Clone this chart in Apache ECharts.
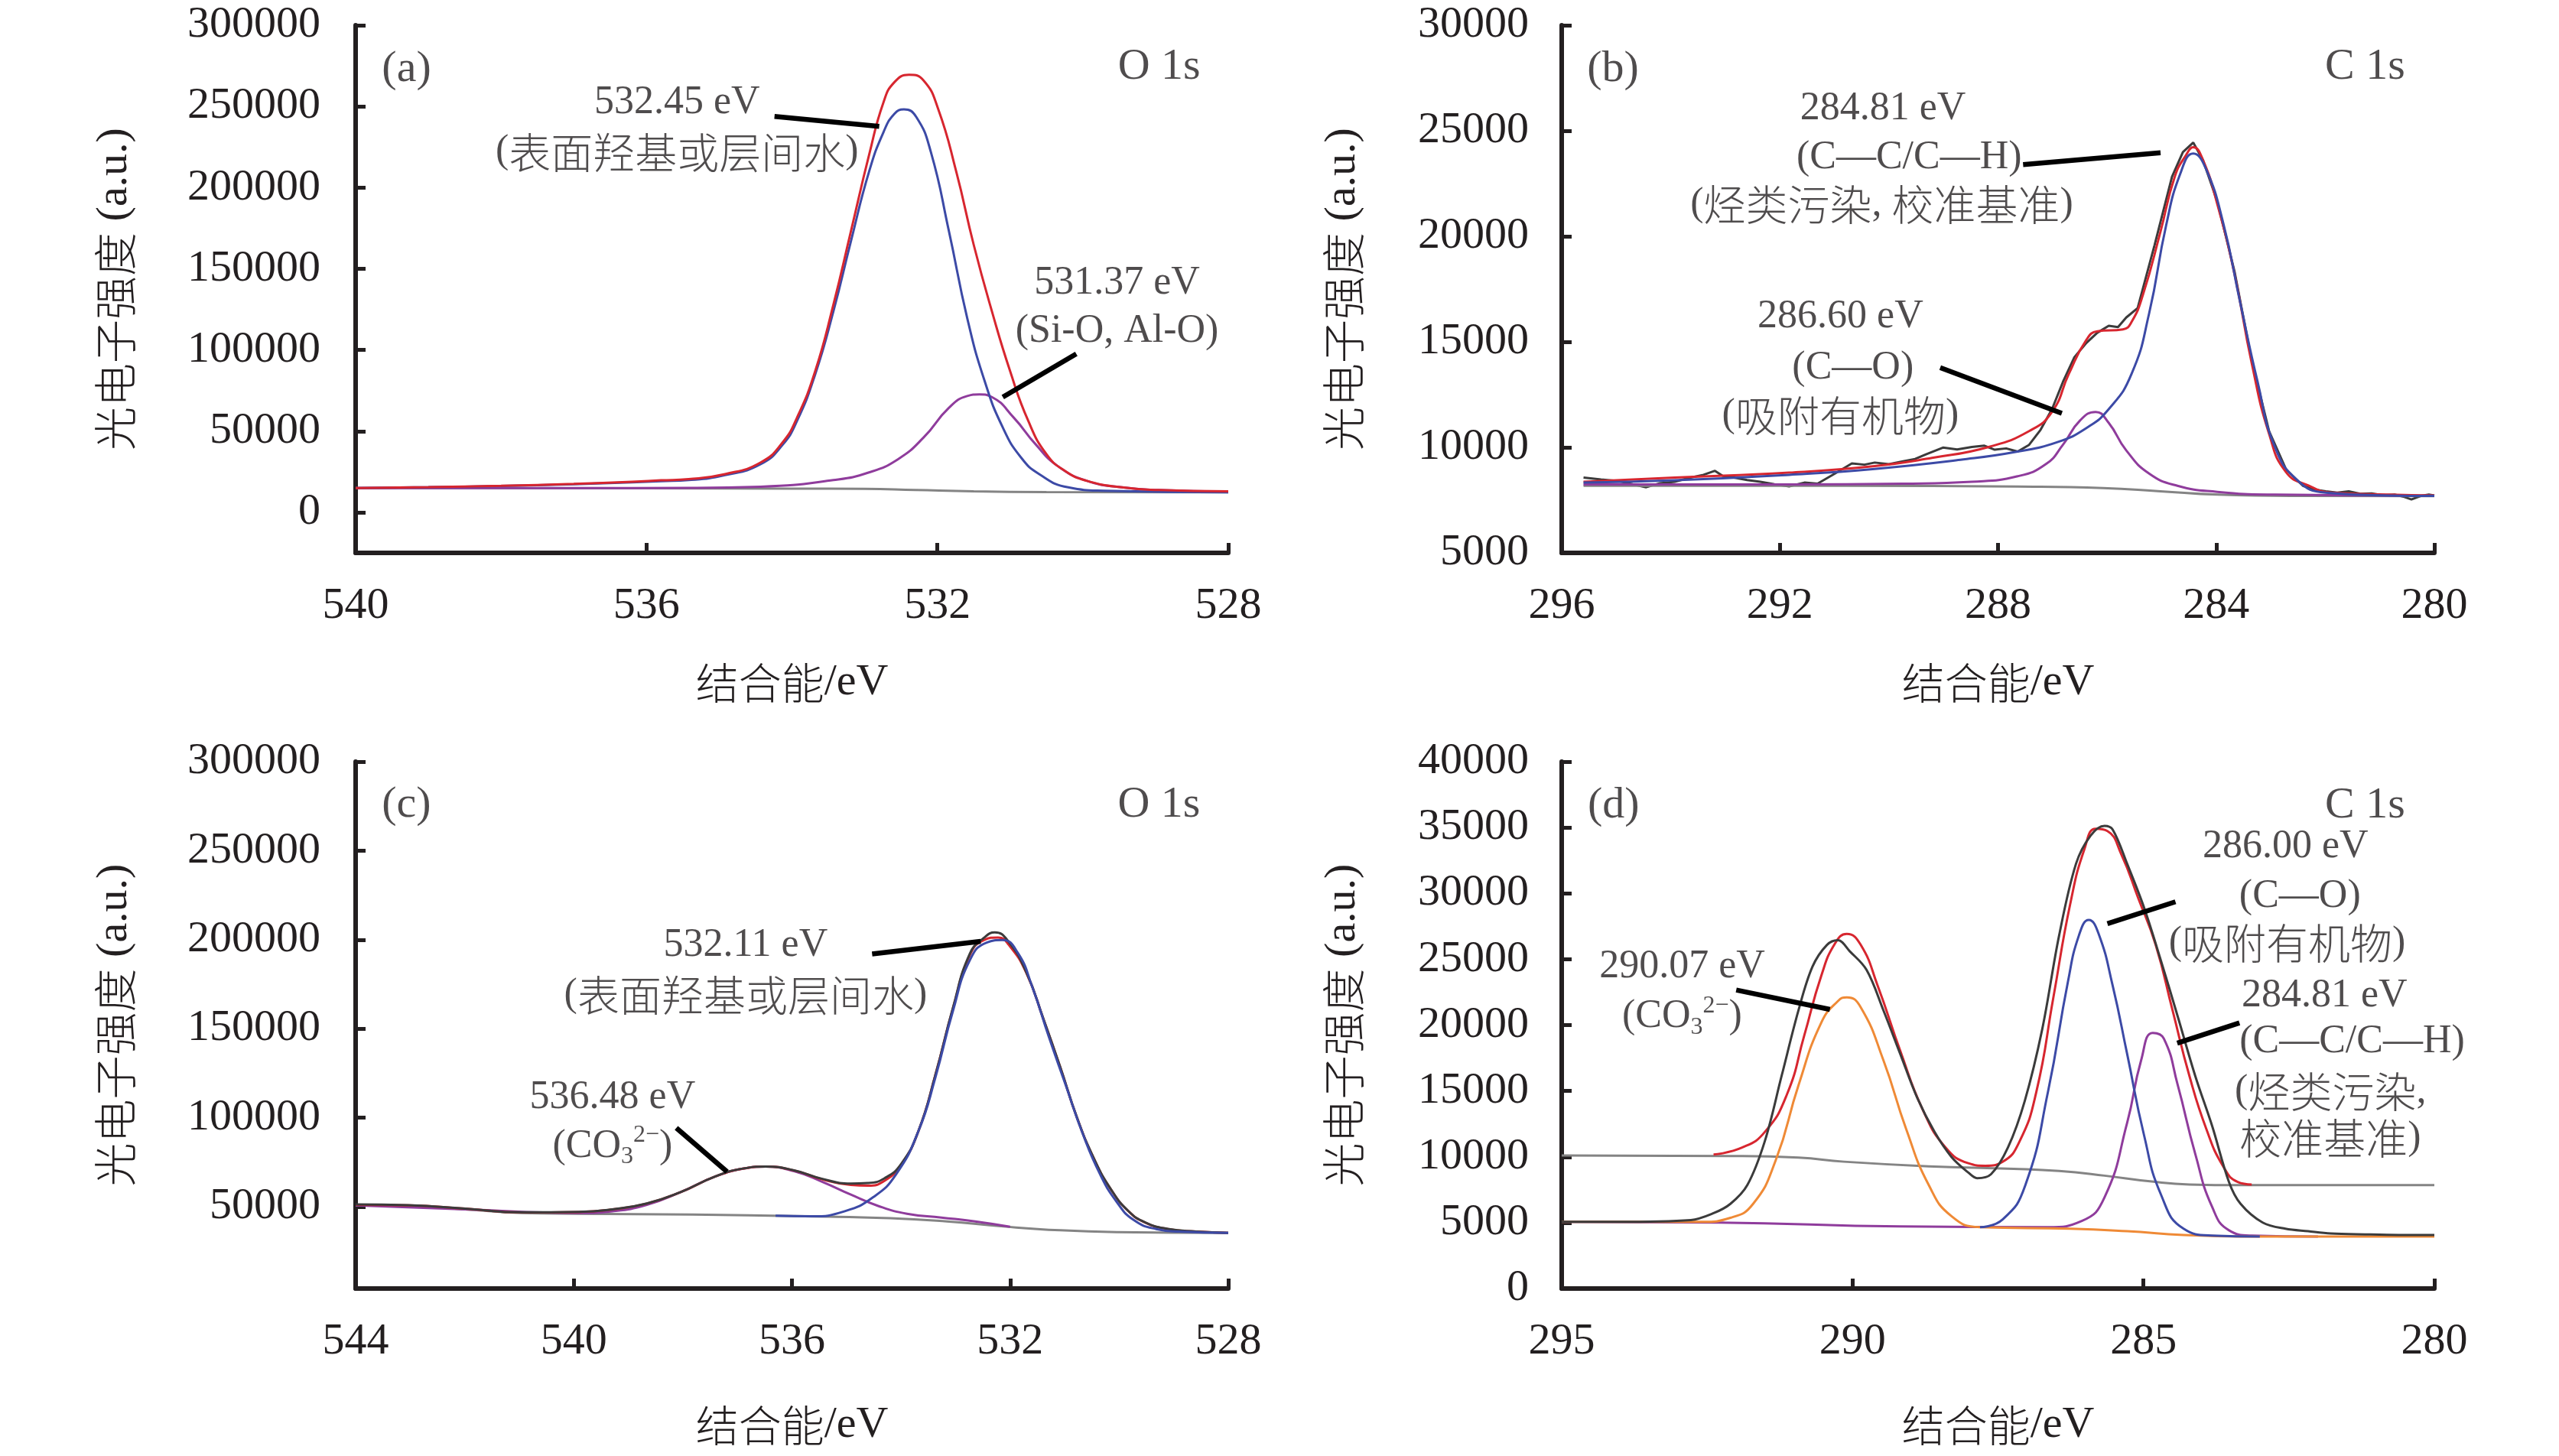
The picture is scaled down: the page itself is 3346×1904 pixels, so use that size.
<!DOCTYPE html>
<html><head><meta charset="utf-8">
<script src="https://cdn.jsdelivr.net/npm/echarts@6/dist/echarts.min.js"></script>
<style>html,body{margin:0;padding:0;background:#fff}#c{width:3346px;height:1904px}</style>
</head><body><div id="c"></div>
<script>
// ---------------- DATA (binding energy eV, intensity a.u.) ----------------
// Panel (a) O 1s
const a_envelope = [[540,14900],[539,15500],[538,16300],[537,17500],[536.2,18800],[535.8,19700],[535.42,20460],[534.92,23530],[534.43,30690],[534.13,42970],[533.93,58310],[533.68,86960],[533.43,127880],[533.19,172890],[532.94,219950],[532.74,252680],[532.59,264960],[532.39,269460],[532.19,265980],[531.99,248590],[531.74,209720],[531.50,164700],[531.25,123780],[531.00,86960],[530.75,56270],[530.50,35810],[530.25,25580],[529.95,19440],[529.46,15350],[528.96,13710],[528.00,12890]];
const a_peak53245 = [[540,14900],[539,15450],[538,16200],[537,17300],[536.2,18500],[535.8,19200],[535.42,19850],[534.92,22900],[534.43,29670],[534.13,41500],[533.93,56270],[533.68,85000],[533.43,123780],[533.19,166750],[532.94,209720],[532.74,234270],[532.59,245520],[532.46,248180],[532.29,243470],[532.09,221990],[531.84,172890],[531.59,119690],[531.35,80820],[531.10,52170],[530.85,33760],[530.60,23530],[530.20,15350],[529.71,13300],[528.00,12300]];
const a_peak53137 = [[540,14950],[537,14900],[535.42,15000],[534.43,15750],[533.43,19850],[532.94,24550],[532.54,32740],[532.19,46040],[531.84,64450],[531.59,71610],[531.42,72630],[531.25,70990],[530.95,58310],[530.65,41940],[530.35,28640],[529.95,19440],[529.46,15350],[528.96,13710],[528.00,12690]];
const a_background = [[540,14900],[536,14800],[534,14600],[533,14400],[532.3,13700],[531.5,12900],[530.5,12500],[528,12300]];

// Panel (b) C 1s
const b_raw = [[295.60,8570],[295.28,8480],[294.97,8410],[294.70,8250],[294.45,8110],[294.20,8300],[293.93,8370],[293.65,8560],[293.40,8700],[293.19,8890],[293.05,8650],[292.88,8590],[292.60,8450],[292.36,8370],[292.10,8250],[291.83,8150],[291.55,8330],[291.31,8280],[290.99,8760],[290.68,9240],[290.45,9180],[290.26,9280],[290.00,9200],[289.74,9340],[289.52,9450],[289.32,9670],[289.01,9990],[288.75,9900],[288.48,10020],[288.25,10080],[288.06,9890],[287.85,9950],[287.64,9800],[287.43,10120],[287.22,10830],[287.01,11810],[286.81,13100],[286.60,14270],[286.39,14920],[286.18,15430],[285.97,15760],[285.80,15700],[285.65,16150],[285.44,16600],[285.13,19580],[284.81,22820],[284.61,23990],[284.42,24440],[284.24,23600],[283.98,21650],[283.66,18290],[283.35,14140],[283.03,10770],[282.72,8960],[282.41,8180],[282.20,8000],[281.99,7920],[281.78,7850],[281.57,7920],[281.36,7800],[281.15,7820],[280.94,7730],[280.73,7760],[280.55,7650],[280.42,7530],[280.25,7700],[280.10,7760],[280.0,7720]];
const b_envelope = [[295.60,8370],[293.93,8570],[291.83,8800],[290.26,9110],[289.21,9500],[288.17,10020],[287.43,10770],[287.01,11680],[286.70,13490],[286.39,15050],[286.18,15500],[285.71,15590],[285.55,15950],[285.34,17250],[285.02,20230],[284.76,22820],[284.55,23860],[284.42,24220],[284.24,23600],[283.98,21530],[283.66,18160],[283.35,14010],[283.03,10640],[282.72,8830],[282.30,8180],[281.88,7850],[280.84,7760],[280.00,7720]];
const b_peak28481 = [[295.60,8330],[293.93,8440],[291.83,8700],[290.26,8980],[288.69,9410],[287.64,9800],[286.91,10250],[286.39,10900],[285.97,11810],[285.55,13490],[285.23,16340],[284.92,20490],[284.66,22950],[284.42,23920],[284.19,23210],[283.87,20620],[283.56,16860],[283.24,13100],[282.93,10060],[282.51,8440],[281.99,7850],[280.84,7720],[280.00,7700]];
const b_peak28660 = [[295.60,8240],[291.83,8240],[289.74,8280],[288.48,8370],[287.64,8630],[287.12,9210],[286.81,10120],[286.49,11290],[286.21,11680],[285.97,11160],[285.65,9860],[285.23,8760],[284.71,8180],[283.98,7890],[282.93,7760],[280.00,7710]];
const b_background = [[295.60,8180],[290.79,8180],[287.64,8140],[286.07,8070],[285.02,7920],[283.98,7760],[282.41,7700],[280.00,7690]];

// Panel (c) O 1s
const c_raw = [[544.0,51300],[543.03,50800],[541.99,48900],[540.95,46800],[539.91,47050],[539.29,48500],[538.66,51800],[538.04,58200],[537.42,66800],[536.90,71400],[536.48,72500],[535.96,70400],[535.44,65600],[534.92,63000],[534.61,63300],[534.30,66000],[533.99,74300],[533.68,92600],[533.37,124000],[533.05,161500],[532.74,192000],[532.48,201000],[532.28,204080],[532.02,198500],[531.70,181500],[531.39,155600],[531.08,128400],[530.77,99800],[530.46,76900],[530.15,59700],[529.83,47500],[529.52,41100],[529.11,37500],[528.59,36000],[528.0,35300]];
const c_envelope = [[544.0,51010],[543.03,50730],[541.99,48870],[540.95,46720],[539.91,47010],[539.29,48440],[538.66,51730],[538.04,58170],[537.42,66750],[536.90,71330],[536.48,72470],[535.96,70330],[535.44,65320],[534.92,62170],[534.61,61740],[534.30,64600],[533.99,73900],[533.68,92500],[533.37,123970],[533.05,161160],[532.74,191200],[532.48,199790],[532.22,201220],[532.02,196930],[531.70,181190],[531.39,155440],[531.08,128260],[530.77,99650],[530.46,76760],[530.15,59600],[529.83,47440],[529.52,41000],[529.11,37420],[528.59,35990],[528.0,35280]];
const c_peak53211 = [[536.3,44900],[535.65,44580],[535.03,47440],[534.51,55300],[534.09,68180],[533.68,92500],[533.37,122540],[533.05,159730],[532.74,188340],[532.43,198360],[532.14,199790],[531.86,192630],[531.60,174040],[531.29,145430],[530.98,118250],[530.67,91070],[530.35,68180],[530.04,52440],[529.73,42430],[529.32,37420],[528.90,35990],[528.0,35280]];
const c_peak53648 = [[544.0,50730],[541.99,48440],[539.91,46440],[539.29,47440],[538.66,51010],[538.04,58170],[537.42,66750],[536.90,71330],[536.48,72470],[535.96,69900],[535.44,63890],[534.92,56740],[534.41,50300],[533.89,46010],[533.26,43860],[532.64,41720],[532.0,38700]];
const c_background = [[544.0,50730],[543.03,50300],[541.99,48440],[540.95,46440],[539.91,46010],[537.83,45580],[535.76,44580],[534.20,43570],[533.16,41720],[532.12,38850],[531.08,36710],[530.04,35710],[528.0,35280]];

// Panel (d) C 1s
const d_raw = [[295.0,5060],[294.05,5060],[292.78,5200],[292.39,5720],[292.10,6430],[291.81,7850],[291.51,11170],[291.22,16140],[290.93,21120],[290.69,24430],[290.44,26090],[290.25,26440],[290.05,25610],[289.76,24190],[289.47,21120],[289.18,17800],[288.89,14490],[288.59,11880],[288.30,9990],[288.01,8800],[287.86,8380],[287.62,8680],[287.33,10700],[287.04,14250],[286.74,19690],[286.45,26800],[286.16,32240],[285.91,34380],[285.67,35130],[285.53,34850],[285.28,32240],[284.99,28930],[284.70,24900],[284.41,20640],[284.11,16140],[283.82,12350],[283.53,8090],[283.33,6430],[282.95,5010],[282.56,4540],[282.17,4350],[281.78,4180],[281.19,4110],[280.61,4070],[280.0,4070]];
const d_envelope = [[292.39,10170],[291.90,10700],[291.51,11880],[291.13,14720],[290.83,19220],[290.54,23720],[290.30,26210],[290.10,26920],[289.86,26090],[289.57,23010],[289.18,18040],[288.79,13540],[288.40,10700],[288.01,9510],[287.72,9320],[287.42,9630],[287.13,11170],[286.84,14960],[286.55,22060],[286.26,29170],[286.01,33430],[285.82,34900],[285.62,34730],[285.38,32960],[285.09,29640],[284.79,26090],[284.50,21120],[284.21,16140],[283.92,12120],[283.63,9280],[283.38,8090],[283.14,7900]];
const d_peak29007 = [[295.0,5060],[292.59,5060],[292.10,5370],[291.71,6430],[291.32,9750],[290.93,15430],[290.54,20170],[290.25,21830],[290.10,22110],[289.86,21350],[289.47,17330],[289.08,12120],[288.69,7850],[288.30,5490],[287.81,4660],[286.26,4540],[285.28,4350],[284.31,4070],[283.33,3950],[280.0,3950]];
const d_peak28600 = [[287.81,4660],[287.42,5250],[287.03,7850],[286.64,14960],[286.30,23250],[286.11,26800],[285.94,27980],[285.77,26920],[285.53,23010],[285.28,17800],[284.99,11640],[284.70,7140],[284.31,4540],[283.82,4020],[283.0,3950]];
const d_peak28481 = [[295.0,5060],[292.3,5010],[289.18,4710],[286.64,4660],[286.06,5130],[285.67,6910],[285.28,12590],[285.04,17330],[284.84,19410],[284.65,18980],[284.41,15430],[284.11,10220],[283.82,6200],[283.53,4420],[283.14,4020],[282.0,3950]];
const d_background = [[295.0,10100],[292.10,10060],[290.93,9940],[290.15,9630],[288.69,9280],[287.23,9090],[286.45,8920],[285.67,8570],[284.89,8140],[284.21,7900],[283.33,7850],[280.0,7850]];

// Axis tick labels
const ticks_a_y = [0,50000,100000,150000,200000,250000,300000];
const ticks_c_y = [50000,100000,150000,200000,250000,300000];

// Annotations: [E, I, text, align, kind]
const a_notes = [[539.30,272850,'(a)','center','tag'],[528.95,274270,'O 1s','center','tag'],
  [535.58,252120,'532.45 eV','center','note'],[535.58,221960,'(表面羟基或层间水)','center','note'],
  [529.53,141100,'531.37 eV','center','note'],[529.53,111450,'(Si-O, Al-O)','center','note']];
const a_leaders = [[534.24,243870,532.80,237750],[530.09,97550,531.10,70970]];
const b_notes = [[295.06,27910,'(b)','center','tag'],[281.27,28020,'C 1s','center','tag'],
  [290.11,26030,'284.81 eV','center','note'],[289.63,23730,'(C—C/C—H)','center','note'],[290.13,21520,'(烃类污染, 校准基准)','center','note'],
  [290.89,16190,'286.60 eV','center','note'],[290.66,13750,'(C—O)','center','note'],[290.89,11520,'(吸附有机物)','center','note']];
const b_leaders = [[287.54,23400,285.02,23960],[289.06,13780,286.83,11610]];
const c_notes = [[543.07,275520,'(c)','center','tag'],[529.27,275520,'O 1s','center','tag'],
  [536.85,196900,'532.11 eV','center','note'],[536.85,169030,'(表面羟基或层间水)','center','note'],
  [539.29,111090,'536.48 eV','center','note'],[539.29,83900,'(CO{sb|3}{sp|2−})','center','note']];
const c_leaders = [[534.53,191950,532.54,199060],[538.12,94200,537.19,69600]];
const d_notes = [[294.11,36620,'(d)','center','tag'],[281.19,36620,'C 1s','center','tag'],
  [292.93,24450,'290.07 eV','center','note'],[292.93,20630,'(CO{sb|3}{sp|2−})','center','note'],
  [282.56,33550,'286.00 eV','center','note'],[282.31,29760,'(C—O)','center','note'],[282.53,26210,'(吸附有机物)','center','note'],
  [281.89,22190,'284.81 eV','center','note'],[283.35,18750,'(C—C/C—H)','left','note'],[283.43,14960,'(烃类污染,','left','note'],[283.35,11410,'校准基准)','left','note']];
const d_leaders = [[292.00,22660,290.39,21190],[284.45,29360,285.62,27700],[283.35,20170,284.42,18630]];

// ---------------- STYLE ----------------
const INK = '#231f20';
const LATIN = "'Liberation Serif', 'Times New Roman', serif";
const CJK = "'Noto Sans CJK SC'";
const COL = {red:'#d7262f', blue:'#3c4aa6', purple:'#8f3c9c', gray:'#848484', raw:'#3b3b3b', orange:'#ef8a36'};
const RICH = {
  cj:{fontFamily:CJK, fontSize:55, fontWeight:300, color:INK},
  sb:{fontFamily:LATIN, fontSize:32, color:INK, verticalAlign:'bottom', lineHeight:34},
  sp:{fontFamily:LATIN, fontSize:32, color:INK, verticalAlign:'top', lineHeight:34}
};
function wrapCJK(s){ return s.replace(/([\u3400-\u9fff\uff00-\uffef]+)/g, '{cj|$1}'); }

const grids = [
  {left:465, top:33, width:1141, height:690},
  {left:2042, top:33, width:1141, height:690},
  {left:465, top:996, width:1141, height:689},
  {left:2042, top:996, width:1141, height:689}
];

function xAxis(g, min, max, interval, gap){
  return {gridIndex:g, type:'value', min:min, max:max, interval:interval, inverse:true,
    name:'{cj|结合能}/eV', nameLocation:'middle', nameGap:gap,
    nameTextStyle:{fontSize:58, fontFamily:LATIN, color:INK, rich:{cj:{fontFamily:CJK, fontSize:56, fontWeight:300, color:INK}}},
    axisLine:{onZero:false, lineStyle:{color:INK, width:6}},
    axisTick:{inside:true, length:13, lineStyle:{color:INK, width:5}},
    axisLabel:{margin:41, fontSize:58, fontFamily:LATIN, color:INK},
    splitLine:{show:false}};
}
function yAxis(g, min, max, interval, custom, gap, margin){
  const ax = {gridIndex:g, type:'value', min:min, max:max,
    name:'{cj|光电子强度} (a.u.)', nameLocation:'middle', nameGap:gap, nameRotate:90,
    nameTextStyle:{fontSize:58, fontFamily:LATIN, color:INK, rich:{cj:{fontFamily:CJK, fontSize:57, fontWeight:300, color:INK}}},
    axisLine:{onZero:false, lineStyle:{color:INK, width:6}},
    axisTick:{inside:true, length:13, lineStyle:{color:INK, width:5}},
    axisLabel:{margin:margin, fontSize:58, fontFamily:LATIN, color:INK, formatter:(v)=>String(v)},
    splitLine:{show:false}};
  if (interval) ax.interval = interval;
  if (custom){ ax.axisLabel.customValues = custom; ax.axisTick.customValues = custom; }
  return ax;
}

const series = [];
function curve(g, data, color, z, smooth){
  series.push({type:'line', xAxisIndex:g, yAxisIndex:g, data:data, showSymbol:false, symbol:'none',
    smooth:smooth===undefined?0.5:smooth, z:z, silent:true,
    lineStyle:{color:color, width:3}, animation:false});
}
function notes(g, arr){
  series.push({type:'scatter', xAxisIndex:g, yAxisIndex:g, symbolSize:0, z:20, silent:true, animation:false,
    data: arr.map(n => ({value:[n[0], n[1]], txt:n[2],
      label:{align:n[3], fontSize:n[4]==='tag'?58:52}})),
    label:{show:true, position:'inside', color:INK, fontFamily:LATIN, fontSize:52, lineHeight:60,
      formatter:(p)=>wrapCJK(p.data.txt), rich:RICH}});
}
function leaders(g, arr){
  series.push({type:'lines', coordinateSystem:'cartesian2d', xAxisIndex:g, yAxisIndex:g, z:15, silent:true, animation:false,
    symbol:['none','none'],
    data: arr.map(l => ({coords:[[l[0],l[1]],[l[2],l[3]]]})),
    lineStyle:{color:'#000', width:6.5, opacity:1, curveness:0}});
}

// (a)
curve(0, a_background, COL.gray, 2);
curve(0, a_peak53137, COL.purple, 3);
curve(0, a_peak53245, COL.blue, 4);
curve(0, a_envelope, COL.red, 5);
notes(0, a_notes); leaders(0, a_leaders);
// (b)
curve(1, b_raw, COL.raw, 2, false);
curve(1, b_background, COL.gray, 3);
curve(1, b_peak28660, COL.purple, 4);
curve(1, b_envelope, COL.red, 5);
curve(1, b_peak28481, COL.blue, 6);
notes(1, b_notes); leaders(1, b_leaders);
// (c)
curve(2, c_background, COL.gray, 2);
curve(2, c_peak53648, COL.purple, 3);
curve(2, c_envelope, COL.red, 4);
curve(2, c_raw, COL.raw, 5);
curve(2, c_peak53211, COL.blue, 6);
notes(2, c_notes); leaders(2, c_leaders);
// (d)
curve(3, d_background, COL.gray, 2);
curve(3, d_peak28481, COL.purple, 3);
curve(3, d_peak29007, COL.orange, 4);
curve(3, d_peak28600, COL.blue, 5);
curve(3, d_envelope, COL.red, 6);
curve(3, d_raw, COL.raw, 7, 0.35);
notes(3, d_notes); leaders(3, d_leaders);

const chart = echarts.init(document.getElementById('c'), null, {width:3346, height:1904, renderer:'canvas'});
chart.setOption({
  backgroundColor:'#ffffff',
  animation:false,
  grid: grids,
  xAxis: [xAxis(0,528,540,4,141), xAxis(1,280,296,4,141), xAxis(2,528,544,4,150), xAxis(3,280,295,5,150)],
  yAxis: [yAxis(0,-25000,300000,null,ticks_a_y,286,46), yAxis(1,5000,30000,5000,null,257,43),
          yAxis(2,4000,300000,null,ticks_c_y,286,46), yAxis(3,0,40000,5000,null,257,43)],
  series: series
});
</script></body></html>
